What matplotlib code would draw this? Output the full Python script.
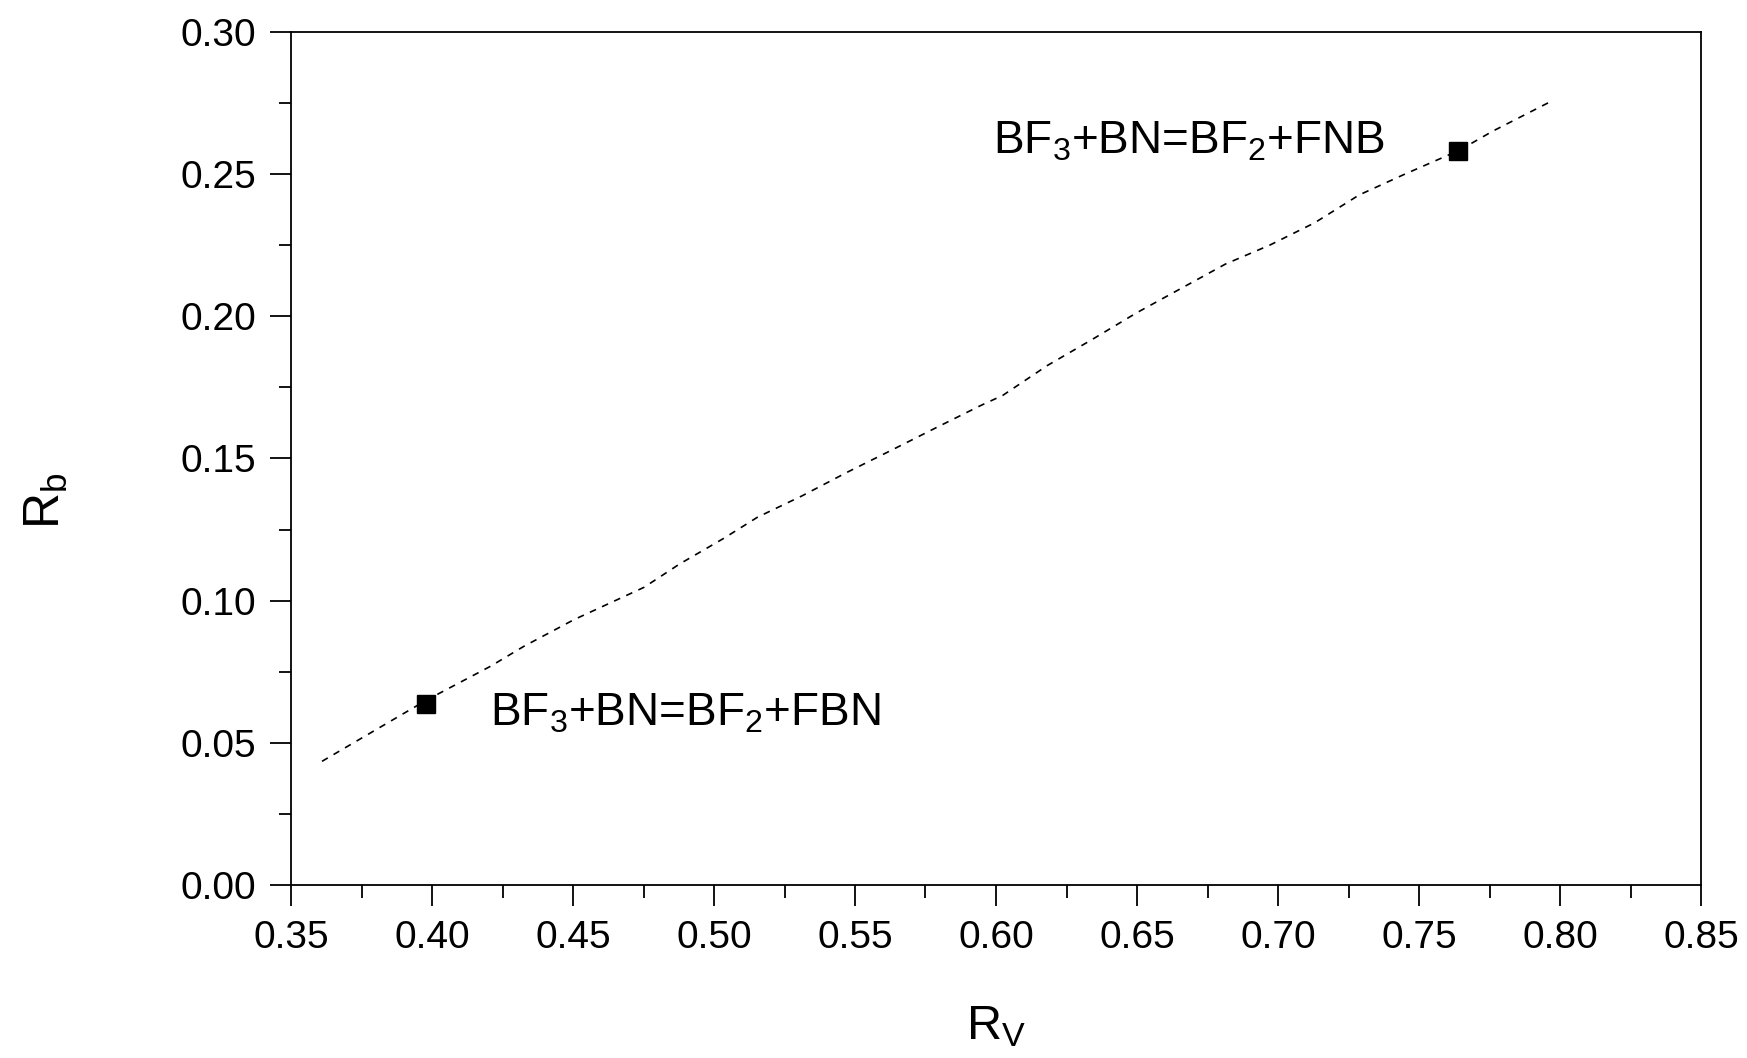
import matplotlib
matplotlib.use("Agg")
import matplotlib.pyplot as plt
from matplotlib.ticker import MultipleLocator, FormatStrFormatter

plt.rcParams['font.family'] = ['Liberation Sans', 'DejaVu Sans']
plt.rcParams['mathtext.fontset'] = 'custom'
plt.rcParams['mathtext.rm'] = 'Liberation Sans'
plt.rcParams['mathtext.it'] = 'Liberation Sans'

# dotted curve R_b vs R_V
rv_line = [0.361, 0.398, 0.4207, 0.4325, 0.4503, 0.4752, 0.4878, 0.5036, 0.5155,
           0.5313, 0.5471, 0.5629, 0.5787, 0.5945, 0.6024, 0.6182, 0.6340, 0.6498,
           0.6656, 0.6814, 0.6972, 0.7130, 0.7288, 0.7445, 0.7643, 0.7761, 0.7978]
rb_line = [0.0435, 0.0650, 0.0769, 0.0839, 0.0933, 0.1047, 0.1129, 0.1220, 0.1294,
           0.1369, 0.1451, 0.1529, 0.1608, 0.1686, 0.1722, 0.1827, 0.1918, 0.2012,
           0.2098, 0.2184, 0.2251, 0.2329, 0.2427, 0.2498, 0.2584, 0.2651, 0.2761]

# the two reactions
rv_pts = [0.398, 0.764]
rb_pts = [0.0635, 0.2580]
labels = ["BF$_3$+BN=BF$_2$+FBN", "BF$_3$+BN=BF$_2$+FNB"]
label_pos = [(0.4207, 0.0604), (0.5988, 0.2616)]

fig = plt.figure(figsize=(17.47, 10.58), dpi=100)
ax = fig.add_axes([291/1747, 1-885/1058, (1701-291)/1747, (885-32)/1058])

ax.plot(rv_line, rb_line, color='black', lw=1.2, linestyle=(0, (4, 4)))
ax.plot(rv_pts, rb_pts, 's', color='black', ms=13, linestyle='none')

for t, (x, y) in zip(labels, label_pos):
    ax.text(x, y, t, fontsize=33, va='center', ha='left')

ax.set_xlim(0.35, 0.85)
ax.set_ylim(0.0, 0.30)
ax.xaxis.set_major_locator(MultipleLocator(0.05))
ax.xaxis.set_minor_locator(MultipleLocator(0.025))
ax.yaxis.set_major_locator(MultipleLocator(0.05))
ax.yaxis.set_minor_locator(MultipleLocator(0.025))
ax.xaxis.set_major_formatter(FormatStrFormatter('%.2f'))
ax.yaxis.set_major_formatter(FormatStrFormatter('%.2f'))

for s in ax.spines.values():
    s.set_linewidth(1.3)
ax.tick_params(which='both', direction='out', top=False, right=False, width=1.3)
ax.tick_params(which='major', length=15, labelsize=28, pad=10)
ax.tick_params(which='minor', length=9)

ax.set_xlabel("R$_\\mathrm{V}$", fontsize=35)
ax.set_ylabel("R$_\\mathrm{b}$", fontsize=36)
ax.xaxis.set_label_coords(0.5, -0.14)
ax.yaxis.set_label_coords(-0.157, 0.45)

fig.savefig("out.png", dpi=100)
